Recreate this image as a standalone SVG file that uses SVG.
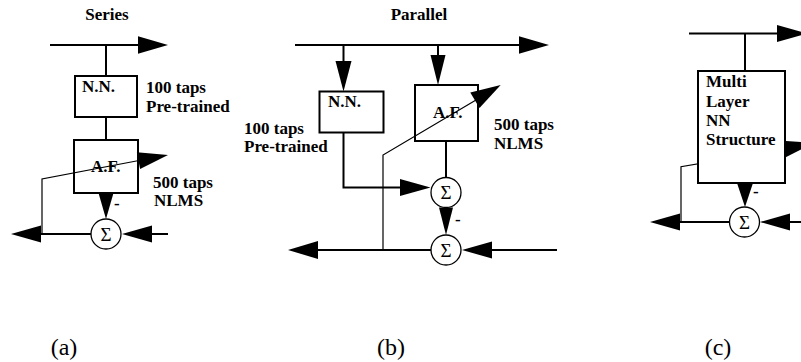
<svg xmlns="http://www.w3.org/2000/svg" width="801" height="362" viewBox="0 0 801 362">
<style>
.ln{fill:none;stroke:#000;stroke-width:2}
.fb{fill:none;stroke:#000;stroke-width:1.2}
.ah{fill:#000;stroke:none}
.box{fill:none;stroke:#000;stroke-width:2}
.boxw{fill:#fff;stroke:#000;stroke-width:2}
.sum{fill:#fff;stroke:#000;stroke-width:1.3}
text{font-family:'Liberation Serif','DejaVu Serif',serif;fill:#000}
.b{font-weight:bold;font-size:17px}
.s{font-size:19px;text-anchor:middle}
.cap{font-size:24px;text-anchor:middle}
</style>
<rect width="801" height="362" fill="#fff"/>
<g id="connectors">
  <path class="ln" d="M50,45 H140"/>
  <polygon class="ah" points="138,36.3 168,45 138,53.7"/>
  <path class="ln" d="M106,45 V76"/>
  <path class="ln" d="M106,117 V140"/>
  <polygon class="ah" points="98.5,193 113.5,193 106,219"/>
  <path class="ln" d="M91,234 H40"/>
  <polygon class="ah" points="41,225.5 11,234 41,242.5"/>
  <path class="ln" d="M168,234 H150"/>
  <polygon class="ah" points="152,225.5 122,234 152,242.5"/>
  <polyline class="fb" points="42,234 42,179 139,160.5"/>
  <polygon class="ah" points="136.9,152.3 168,155 140.1,168.9"/>
  <path class="ln" d="M295,45 H521"/>
  <polygon class="ah" points="519,36.3 549,45 519,53.7"/>
  <path class="ln" d="M343.5,45 V62"/>
  <polygon class="ah" points="335.5,61 351.5,61 343.5,91.5"/>
  <path class="ln" d="M438,45 V56"/>
  <polygon class="ah" points="430.5,55 445.5,55 438,85"/>
  <polyline class="ln" points="343.5,132.5 343.5,187.5 402,187.5"/>
  <polygon class="ah" points="400,179 430.5,187.5 400,196"/>
  <path class="ln" d="M446,141 V177.5"/>
  <polygon class="ah" points="439,207.5 453,207.5 446,235"/>
  <path class="ln" d="M431,250 H316"/>
  <polygon class="ah" points="318,241 288,250 318,259"/>
  <path class="ln" d="M557,250 H490"/>
  <polygon class="ah" points="492,241.5 462,250 492,258.5"/>
  <polyline class="fb" points="383,250 383,155 476,100"/>
  <polygon class="ah" points="470.3,92.6 500.7,85 479.5,108.1"/>
  <path class="ln" d="M689,33.5 H779"/>
  <polygon class="ah" points="777,25 807,33.5 777,42"/>
  <path class="ln" d="M745,33.5 V71"/>
  <polyline class="fb" points="681,222 681,166.7 786,149"/>
  <polygon class="ah" points="782.3,140.7 814,143 785.7,157.3"/>
  <polygon class="ah" points="737,183 753,183 745,207"/>
  <path class="ln" d="M729.5,222 H678"/>
  <polygon class="ah" points="680,213.5 650,222 680,230.5"/>
  <path class="ln" d="M801,222 H788"/>
  <polygon class="ah" points="790,213.5 760,222 790,230.5"/>
</g>
<g id="titles">
  <text class="b" x="107" y="20" text-anchor="middle">Series</text>
  <text class="b" x="419" y="20" text-anchor="middle">Parallel</text>
</g>
<g id="a-nn">
  <rect class="box" x="75" y="76" width="62" height="41"/>
  <text class="b" x="82" y="92">N.N.</text>
  <text class="b" x="146" y="93">100 taps</text>
  <text class="b" x="146" y="112">Pre-trained</text>
</g>
<g id="a-af">
  <rect class="box" x="74" y="140" width="64" height="53"/>
  <text class="b" x="91" y="172">A.F.</text>
  <text class="b" x="153" y="188">500 taps</text>
  <text class="b" x="154" y="206">NLMS</text>
</g>
<g id="a-sum">
  <circle class="sum" cx="106" cy="234" r="15"/>
  <text class="s" x="106" y="240.5">Σ</text>
  <text class="b" x="114" y="209">-</text>
</g>
<g id="b-nn">
  <rect class="box" x="319.5" y="91.5" width="64" height="41"/>
  <text class="b" x="328" y="107">N.N.</text>
  <text class="b" x="244" y="134">100 taps</text>
  <text class="b" x="244" y="152">Pre-trained</text>
</g>
<g id="b-af">
  <rect class="box" x="415" y="85" width="63" height="56"/>
  <text class="b" x="433" y="118">A.F.</text>
  <text class="b" x="494" y="130">500 taps</text>
  <text class="b" x="494" y="149">NLMS</text>
</g>
<g id="b-sum1">
  <circle class="sum" cx="446" cy="192.5" r="15"/>
  <text class="s" x="446" y="199">Σ</text>
  <text class="b" x="455" y="225">-</text>
</g>
<g id="b-sum2">
  <circle class="sum" cx="446" cy="250" r="15"/>
  <text class="s" x="446" y="256.5">Σ</text>
</g>
<g id="c-mlnn">
  <rect class="boxw" x="698" y="71" width="87" height="112"/>
  <text class="b" x="706" y="87">Multi</text>
  <text class="b" x="706" y="106.5">Layer</text>
  <text class="b" x="706" y="126">NN</text>
  <text class="b" x="706" y="145">Structure</text>
</g>
<g id="c-sum">
  <circle class="sum" cx="744.5" cy="222" r="15"/>
  <text class="s" x="744.5" y="228.5">Σ</text>
  <text class="b" x="753" y="197">-</text>
</g>
<g id="captions">
  <text class="cap" x="64" y="355">(a)</text>
  <text class="cap" x="391" y="355">(b)</text>
  <text class="cap" x="718" y="355">(c)</text>
</g>
</svg>
